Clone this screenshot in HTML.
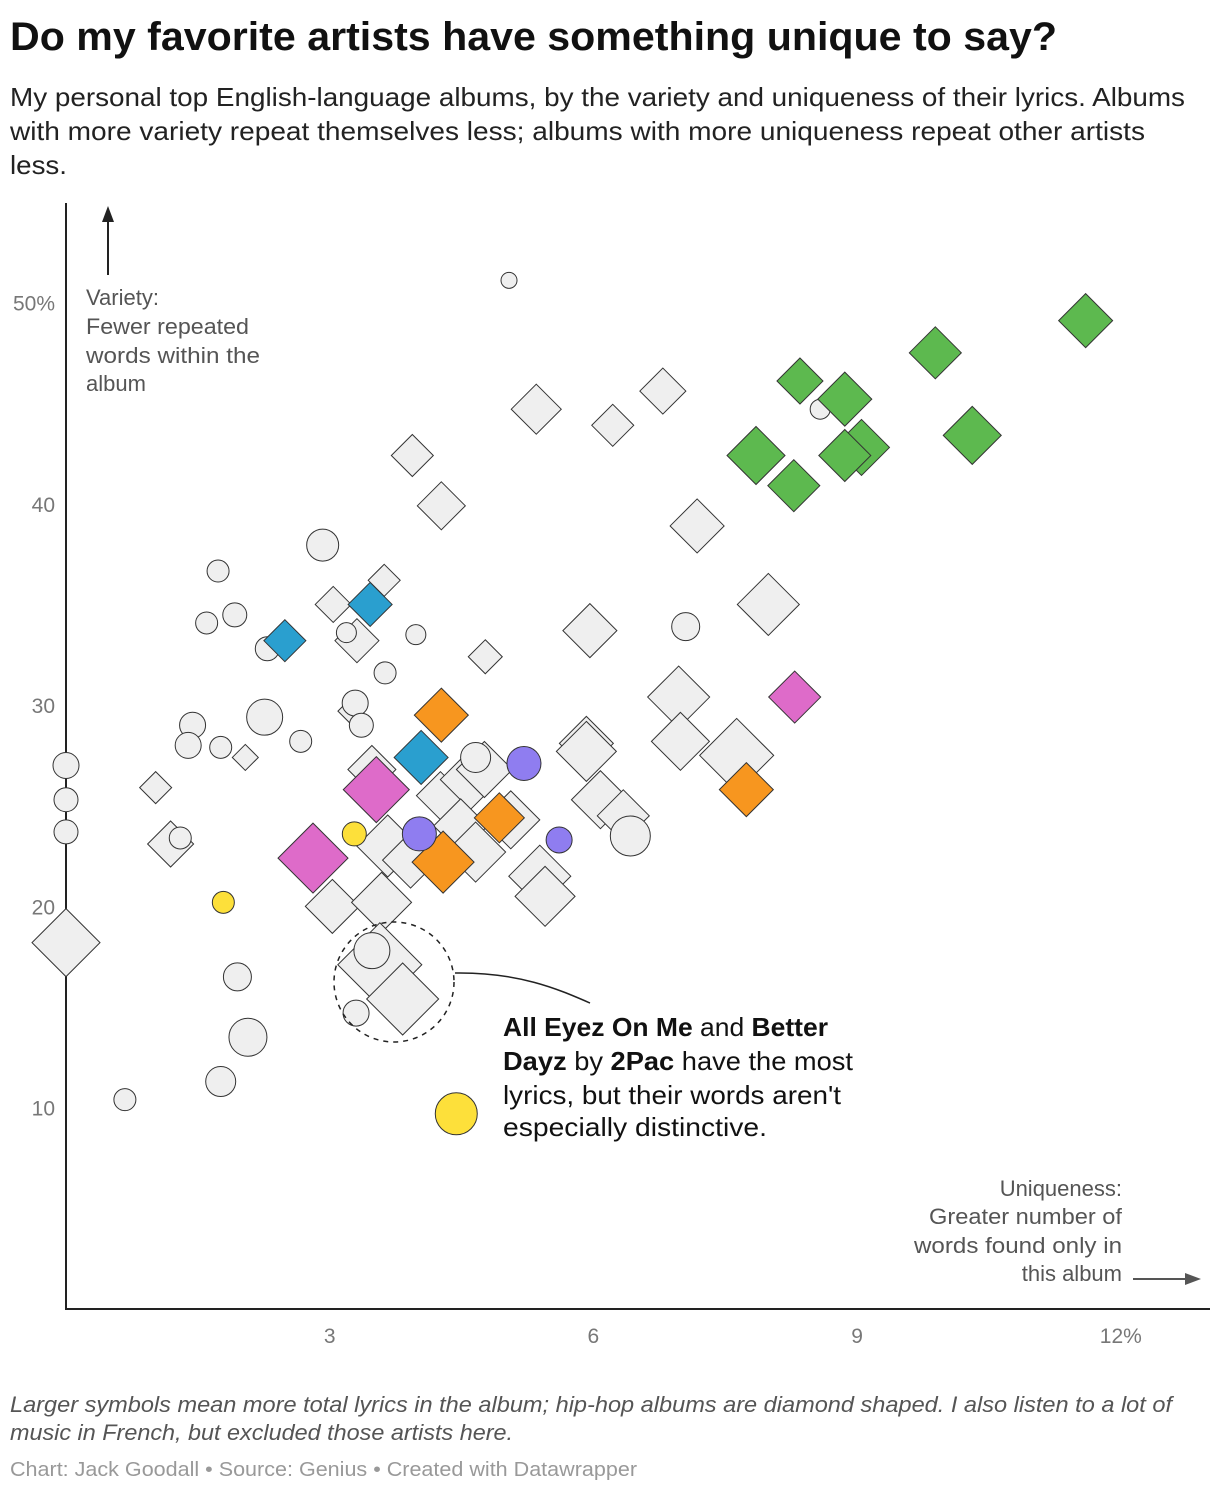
<!DOCTYPE html>
<html><head><meta charset="utf-8">
<style>
body{margin:0;background:#fff;width:1220px;height:1492px;overflow:hidden;font-family:"Liberation Sans",sans-serif;}
</style></head>
<body>
<svg id="chart" width="1220" height="1492" xmlns="http://www.w3.org/2000/svg" font-family="Liberation Sans, sans-serif">
<text x="10" y="50" font-size="40" font-weight="bold" fill="#111" textLength="1047" lengthAdjust="spacingAndGlyphs">Do my favorite artists have something unique to say?</text>
<g font-size="26" fill="#222">
<text x="10" y="106" textLength="1175" lengthAdjust="spacingAndGlyphs">My personal top English-language albums, by the variety and uniqueness of their lyrics. Albums</text>
<text x="10" y="140" textLength="1135" lengthAdjust="spacingAndGlyphs">with more variety repeat themselves less; albums with more uniqueness repeat other artists</text>
<text x="10" y="174" textLength="57" lengthAdjust="spacingAndGlyphs">less.</text>
</g>
<line x1="66" y1="203" x2="66" y2="1310" stroke="#222" stroke-width="2"/>
<line x1="66" y1="1309" x2="1210" y2="1309" stroke="#222" stroke-width="2"/>
<g id="yticks" font-size="21" fill="#777" text-anchor="end"></g>
<g id="xticks" font-size="21" fill="#777" text-anchor="middle"></g>
<g font-size="22" fill="#555">
<text x="86" y="305">Variety:</text><text x="86" y="334" textLength="163" lengthAdjust="spacingAndGlyphs">Fewer repeated</text><text x="86" y="363" textLength="174" lengthAdjust="spacingAndGlyphs">words within the</text><text x="86" y="391">album</text>
</g>
<line x1="108" y1="275" x2="108" y2="218" stroke="#222" stroke-width="2"/>
<polygon points="108,206 102,222 114,222" fill="#222"/>
<g font-size="22" fill="#555" text-anchor="end">
<text x="1122" y="1196">Uniqueness:</text><text x="1122" y="1224" textLength="193" lengthAdjust="spacingAndGlyphs">Greater number of</text><text x="1122" y="1253" textLength="208" lengthAdjust="spacingAndGlyphs">words found only in</text><text x="1122" y="1281">this album</text>
</g>
<line x1="1133" y1="1279" x2="1188" y2="1279" stroke="#555" stroke-width="2"/>
<polygon points="1201,1279 1185,1273 1185,1285" fill="#555"/>
<g id="marks"></g>
<circle cx="394" cy="982" r="60" fill="none" stroke="#222" stroke-width="1.5" stroke-dasharray="5,5"/>
<path d="M455,973 C520,972 560,990 590,1003" fill="none" stroke="#222" stroke-width="1.5"/>
<g font-size="26" fill="#111">
<text x="503" y="1036" textLength="325" lengthAdjust="spacingAndGlyphs"><tspan font-weight="bold">All Eyez On Me</tspan> and <tspan font-weight="bold">Better</tspan></text>
<text x="503" y="1070" textLength="350" lengthAdjust="spacingAndGlyphs"><tspan font-weight="bold">Dayz</tspan> by <tspan font-weight="bold">2Pac</tspan> have the most</text>
<text x="503" y="1104" textLength="338" lengthAdjust="spacingAndGlyphs">lyrics, but their words aren't</text>
<text x="503" y="1136" textLength="264" lengthAdjust="spacingAndGlyphs">especially distinctive.</text>
</g>
<g font-size="22" fill="#555" font-style="italic">
<text x="10" y="1412" textLength="1162" lengthAdjust="spacingAndGlyphs">Larger symbols mean more total lyrics in the album; hip-hop albums are diamond shaped. I also listen to a lot of</text>
<text x="10" y="1440" textLength="503" lengthAdjust="spacingAndGlyphs">music in French, but excluded those artists here.</text>
</g>
<text x="10" y="1476" font-size="20" fill="#999" textLength="627" lengthAdjust="spacingAndGlyphs">Chart: Jack Goodall • Source: Genius • Created with Datawrapper</text>
</svg>
<script>
const yTickVals=[10,20,30,40,50];
const yTickLabels=["10","20","30","40","50%"];
const xTickVals=[3,6,9,12];
const xTickLabels=["3","6","9","12%"];
// [uniqueness, variety, size]
const grayCircles=[[5.04,51.1,8],[0,27.0,13],[0,25.3,12],[0,23.7,12],[2.92,37.95,16],[1.73,36.66,11],[1.92,34.48,12],[1.60,34.08,11],[2.29,32.8,12],[3.19,33.6,10],[3.98,33.5,10],[3.63,31.6,11],[2.26,29.4,18],[1.44,29.0,13],[1.39,28.0,13],[1.76,27.9,11],[2.67,28.2,11],[3.29,30.1,13],[3.36,29.0,12],[4.66,27.4,15],[1.30,23.4,11],[8.58,44.7,10],[7.05,33.9,14],[6.42,23.5,20],[3.48,17.8,18],[1.95,16.5,14],[3.30,14.7,13],[2.07,13.5,19],[1.76,11.3,15],[0.67,10.4,11]];
const yellowCircles=[[3.28,23.6,12],[1.79,20.2,11],[4.44,9.7,21]];
const purpleCircles=[[5.21,27.1,17],[4.02,23.6,17],[5.61,23.3,13]];
const grayDiamonds=[[0,18.2,34],[1.02,25.9,16],[1.19,23.1,23],[2.04,27.4,13],[3.04,35.0,18],[3.62,36.2,16],[3.31,33.2,22],[3.94,42.4,21],[4.27,39.9,24],[5.35,44.7,25],[6.22,43.9,21],[6.79,45.6,23],[7.18,38.9,27],[7.99,35.0,31],[5.96,33.7,27],[4.77,32.4,17],[6.97,30.4,31],[6.99,28.2,29],[5.92,28.1,27],[5.92,27.7,30],[7.63,27.5,37],[6.08,25.3,29],[6.34,24.5,26],[5.06,24.3,29],[4.26,25.5,24],[4.60,26.3,30],[4.76,26.8,28],[4.49,24.0,27],[4.66,22.7,30],[3.66,23.0,31],[3.92,22.3,28],[5.39,21.5,31],[5.45,20.5,30],[3.03,20.0,27],[3.59,20.2,30],[3.57,17.1,42],[3.83,15.4,36],[3.23,29.7,12],[3.48,26.8,24]];
const greenDiamonds=[[11.60,49.1,27],[9.89,47.5,26],[8.35,46.1,23],[8.86,45.2,27],[10.31,43.4,29],[9.05,42.8,28],[7.85,42.4,29],[8.86,42.4,26],[8.28,40.9,26]];
const blueDiamonds=[[3.46,35.0,22],[2.49,33.2,21],[4.04,27.4,27]];
const magentaDiamonds=[[8.29,30.4,26],[3.53,25.8,33],[2.81,22.4,35]];
const orangeDiamonds=[[4.27,29.5,27],[4.93,24.4,25],[4.29,22.2,31],[7.74,25.8,27]];

const NS="http://www.w3.org/2000/svg";
const xs=v=>66+v*87.9;
const ys=v=>1309-v*20.13;
const yt=document.getElementById('yticks'),xt=document.getElementById('xticks'),mk=document.getElementById('marks');
yTickVals.forEach((v,i)=>{const t=document.createElementNS(NS,'text');t.setAttribute('x',55);t.setAttribute('y',ys(v)+8);t.textContent=yTickLabels[i];


yt.appendChild(t);});
xTickVals.forEach((v,i)=>{const t=document.createElementNS(NS,'text');t.setAttribute('x',xs(v));t.setAttribute('y',1343);t.textContent=xTickLabels[i];


xt.appendChild(t);});
function drawCircles(arr,fill,name){arr.forEach(d=>{const c=document.createElementNS(NS,'circle');c.setAttribute('cx',xs(d[0]));c.setAttribute('cy',ys(d[1]));c.setAttribute('r',d[2]);c.setAttribute('fill',fill);c.setAttribute('stroke','#333');c.setAttribute('stroke-width','1');


mk.appendChild(c);});}
function drawDiamonds(arr,fill,name){arr.forEach(d=>{const x=xs(d[0]),y=ys(d[1]),r=d[2];const p=document.createElementNS(NS,'polygon');p.setAttribute('points',`${x},${y-r} ${x+r},${y} ${x},${y+r} ${x-r},${y}`);p.setAttribute('fill',fill);p.setAttribute('stroke','#333');p.setAttribute('stroke-width','1');


mk.appendChild(p);});}
drawDiamonds(grayDiamonds,'#efefef','album-diamond');
drawCircles(grayCircles,'#efefef','album-circle');
drawDiamonds(greenDiamonds,'#5db94f','album-diamond-green');
drawDiamonds(blueDiamonds,'#2a9fcf','album-diamond-blue');
drawDiamonds(magentaDiamonds,'#de6bc9','album-diamond-magenta');
drawDiamonds(orangeDiamonds,'#f7961f','album-diamond-orange');
drawCircles(yellowCircles,'#fde03a','album-circle-yellow');
drawCircles(purpleCircles,'#8f7df0','album-circle-purple');
</script>
</body></html>
